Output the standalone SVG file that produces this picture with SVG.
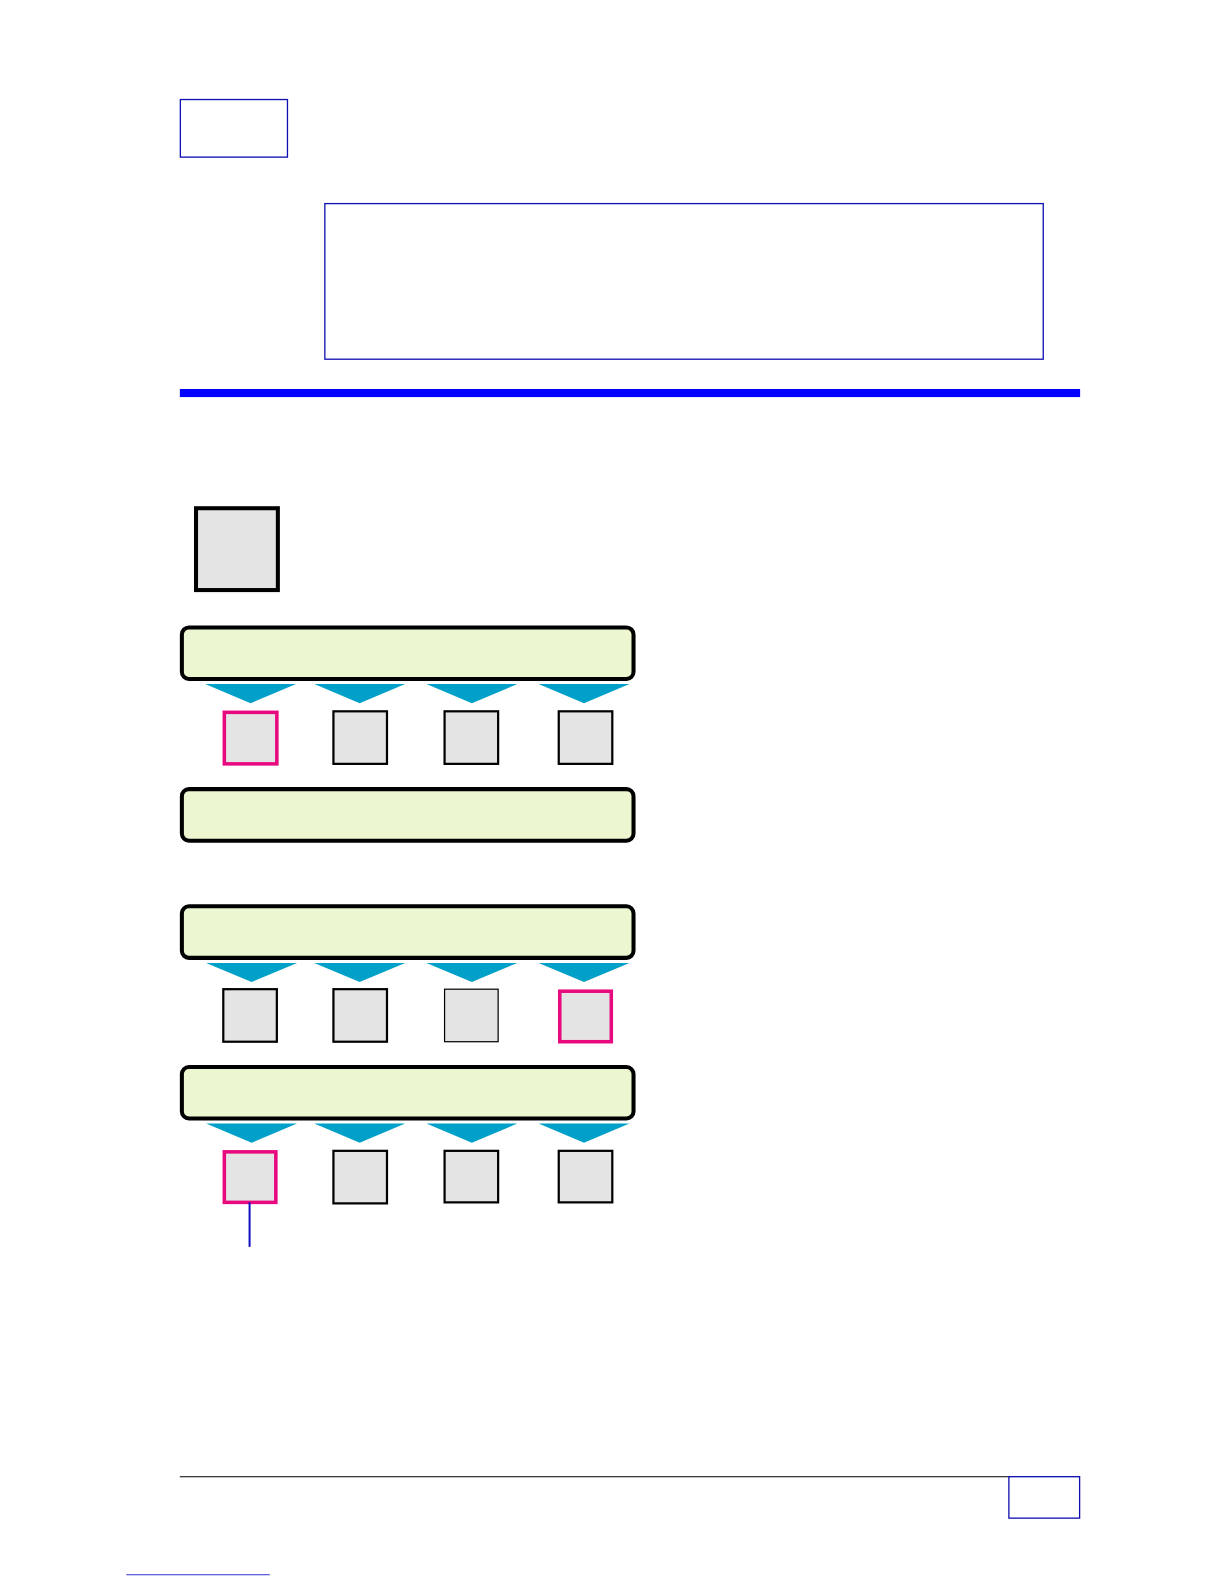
<svg xmlns="http://www.w3.org/2000/svg" width="1224" height="1584" viewBox="0 0 1224 1584">
<defs>
<style>
.frame{fill:#ffffff;stroke:#1010b0;stroke-width:1.3}
.bar{fill:#ecf7d2;stroke:#000;stroke-width:4}
.sq{fill:#e4e4e4;stroke:#000;stroke-width:2.2}
.sqthin{fill:#e4e4e4;stroke:#000;stroke-width:1.2}
.sel{fill:#e4e4e4;stroke:#e8097f;stroke-width:3.5}
.tri{fill:#00a0c8}
</style>
<polygon id="tri" class="tri" points="0,0 90,0 45,19"/>
</defs>
<rect width="1224" height="1584" fill="#fff"/>
<g transform="scale(1.0104)">
<g id="header">
<rect id="tab" class="frame" x="178.5" y="98.5" width="106" height="57"/>
<rect id="titlebox" class="frame" x="321.5" y="201.5" width="711" height="154"/>
<rect id="rule" x="178" y="385" width="891" height="8" fill="#0000ff"/>
</g>
<g id="big-square"><rect class="sq" x="194" y="503" width="81" height="81" style="stroke-width:4"/></g>
<g id="bar1"><rect class="bar" x="180" y="621" width="447" height="51" rx="7"/></g>
<g id="bar2"><rect class="bar" x="180" y="781" width="447" height="51" rx="7"/></g>
<g id="bar3"><rect class="bar" x="180" y="897" width="447" height="51" rx="7"/></g>
<g id="bar4"><rect class="bar" x="180" y="1056" width="447" height="51" rx="7"/></g>
<g id="row1">
<rect class="sel" x="222" y="705" width="52" height="51"/>
<rect class="sq" x="330" y="704" width="53" height="52"/>
<rect class="sq" x="440" y="704" width="53" height="52"/>
<rect class="sq" x="553" y="704" width="53" height="52"/>
</g>
<g id="row3">
<rect class="sq" x="221" y="979" width="53" height="52"/>
<rect class="sq" x="330" y="979" width="53" height="52"/>
<rect class="sqthin" x="440" y="979" width="53" height="52"/>
<rect class="sel" x="554" y="981" width="51" height="50"/>
</g>
<g id="row4">
<rect class="sel" x="222" y="1140" width="51" height="50"/>
<rect class="sq" x="330" y="1139" width="53" height="52"/>
<rect class="sq" x="440" y="1139" width="53" height="51"/>
<rect class="sq" x="553" y="1139" width="53" height="51"/>
</g>
<g id="connectors">
<use href="#tri" x="203" y="677"/>
<use href="#tri" x="311" y="677"/>
<use href="#tri" x="422" y="677"/>
<use href="#tri" x="533" y="677"/>
<use href="#tri" x="204" y="953"/>
<use href="#tri" x="311" y="953"/>
<use href="#tri" x="422" y="953"/>
<use href="#tri" x="533" y="953"/>
<use href="#tri" x="204" y="1112"/>
<use href="#tri" x="311" y="1112"/>
<use href="#tri" x="422" y="1112"/>
<use href="#tri" x="533" y="1112"/>
<line x1="247" y1="1190" x2="247" y2="1234" stroke="#1010c0" stroke-width="2"/>
</g>
<g id="footer">
<line x1="178" y1="1461.5" x2="1069" y2="1461.5" stroke="#000" stroke-width="1"/>
<rect id="pagebox" class="frame" x="998.5" y="1461.5" width="70" height="41"/>
<line x1="125" y1="1558.5" x2="267" y2="1558.5" stroke="#3030d0" stroke-width="1"/>
</g>
</g>
</svg>
